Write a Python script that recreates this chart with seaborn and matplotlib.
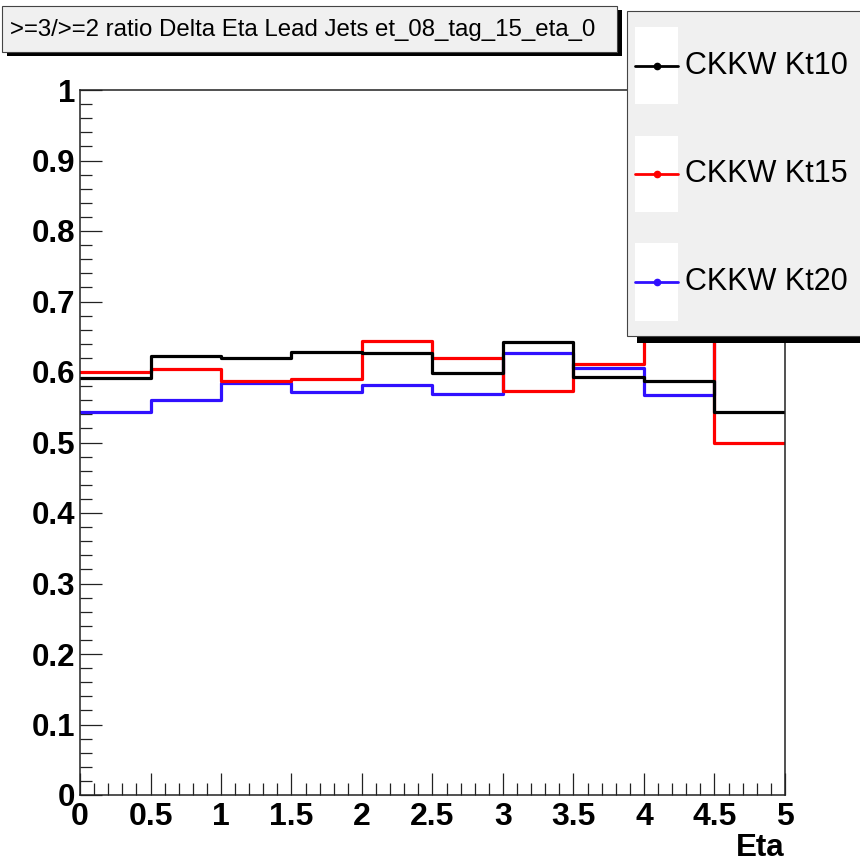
import numpy as np
import pandas as pd
import matplotlib
matplotlib.use("Agg")
import matplotlib.pyplot as plt
import seaborn as sns
from matplotlib.patches import Rectangle
from matplotlib.lines import Line2D
from matplotlib.ticker import MultipleLocator, FixedLocator, FuncFormatter

# ---- data -------------------------------------------------------------
bin_edges = [0.0, 0.5, 1.0, 1.5, 2.0, 2.5, 3.0, 3.5, 4.0, 4.5, 5.0]
kt10 = [0.592, 0.623, 0.620, 0.628, 0.627, 0.598, 0.643, 0.593, 0.587, 0.543]
kt15 = [0.600, 0.604, 0.587, 0.590, 0.644, 0.620, 0.573, 0.611, 0.690, 0.499]
kt20 = [0.543, 0.560, 0.584, 0.571, 0.582, 0.569, 0.627, 0.605, 0.567, 0.700]
series_labels = ["CKKW Kt10", "CKKW Kt15", "CKKW Kt20"]
series_colors = ["#000000", "#ff0000", "#3010ff"]
x_ticks = [0, 0.5, 1, 1.5, 2, 2.5, 3, 3.5, 4, 4.5, 5]
y_ticks = [0, 0.1, 0.2, 0.3, 0.4, 0.5, 0.6, 0.7, 0.8, 0.9, 1.0]
title_text = ">=3/>=2 ratio Delta Eta Lead Jets et_08_tag_15_eta_0"
x_label = "Eta"

centers = [(a + b) / 2 for a, b in zip(bin_edges[:-1], bin_edges[1:])]
df = pd.DataFrame({
    "eta": centers * 3,
    "ratio": kt10 + kt15 + kt20,
    "series": [s for s in series_labels for _ in centers],
})

# ---- style ------------------------------------------------------------
sns.set_style("white")
plt.rcParams["font.family"] = ["Liberation Sans", "DejaVu Sans"]
plt.rcParams["text.color"] = "black"
plt.rcParams["xtick.color"] = "black"
plt.rcParams["ytick.color"] = "black"
plt.rcParams["axes.labelcolor"] = "black"

W, H = 860, 864
fig = plt.figure(figsize=(W / 100, H / 100), dpi=100)
fig.patch.set_facecolor("white")


def fx(px):
    return px / W


def fy(py):
    return 1 - py / H


ax = fig.add_axes([fx(80), fy(795), fx(785) - fx(80), fy(90) - fy(795)])

sns.histplot(
    data=df, x="eta", weights="ratio", hue="series", hue_order=series_labels,
    bins=bin_edges, element="step", fill=False,
    palette=dict(zip(series_labels, series_colors)),
    linewidth=2.3, legend=False, ax=ax,
)

ax.set_xlim(bin_edges[0], bin_edges[-1])
ax.set_ylim(0, 1)
ax.set_ylabel("")
ax.set_xlabel(x_label, fontsize=22.5, fontweight="bold", loc="right")
ax.xaxis.set_label_coords(1.0, -0.054)

ax.xaxis.set_major_locator(FixedLocator(x_ticks))
ax.xaxis.set_minor_locator(MultipleLocator(0.1))
ax.yaxis.set_major_locator(FixedLocator(y_ticks))
ax.yaxis.set_minor_locator(MultipleLocator(0.02))
fmt = FuncFormatter(lambda v, p: f"{v:g}")
ax.xaxis.set_major_formatter(fmt)
ax.yaxis.set_major_formatter(fmt)

ax.tick_params(axis="both", which="both", direction="in", bottom=True, left=True,
               top=False, right=False, color="#222222", width=0.9,
               labelcolor="black")
ax.tick_params(axis="both", which="major", length=16)
ax.tick_params(axis="both", which="minor", length=8.5)
ax.tick_params(axis="x", which="major", pad=5, labelsize=23)
ax.tick_params(axis="y", which="major", pad=3.5, labelsize=22.5)
for lab in ax.get_xticklabels() + ax.get_yticklabels():
    lab.set_fontweight("bold")

for sp in ax.spines.values():
    sp.set_visible(True)
    sp.set_color("#222222")
    sp.set_linewidth(1.1)

# ---- title box --------------------------------------------------------
fig.add_artist(Rectangle((fx(7), fy(56)), fx(617) - fx(2), fy(6) - fy(52),
                         transform=fig.transFigure, facecolor="black",
                         edgecolor="none", zorder=10))
fig.add_artist(Rectangle((fx(2), fy(52)), fx(617) - fx(2), fy(6) - fy(52),
                         transform=fig.transFigure, facecolor="#f0f0f0",
                         edgecolor="#444444", linewidth=0.8, zorder=11))
t = fig.text(fx(10), fy(30), title_text, ha="left", va="center",
             fontsize=15, color="black", zorder=12)
renderer = fig.canvas.get_renderer()
w = t.get_window_extent(renderer).width
t.set_fontsize(15 * (597 - 10) / w)

# ---- legend box -------------------------------------------------------
fig.add_artist(Rectangle((fx(637), fy(343)), fx(880) - fx(637), fy(18) - fy(343),
                         transform=fig.transFigure, facecolor="black",
                         edgecolor="none", zorder=10))
fig.add_artist(Rectangle((fx(627), fy(336)), fx(870) - fx(627), fy(11) - fy(336),
                         transform=fig.transFigure, facecolor="#f0f0f0",
                         edgecolor="#444444", linewidth=0.8, zorder=11))
rows = [(27, 104), (136, 212), (243, 321)]
for (top, bot), lab, col in zip(rows, series_labels, series_colors):
    fig.add_artist(Rectangle((fx(635), fy(bot)), fx(678) - fx(635), fy(top) - fy(bot),
                             transform=fig.transFigure, facecolor="white",
                             edgecolor="none", zorder=12))
    ym = (top + bot) / 2
    fig.add_artist(Line2D([fx(635), fx(678)], [fy(ym), fy(ym)],
                          transform=fig.transFigure, color=col, linewidth=2.0,
                          zorder=13))
    fig.add_artist(Line2D([fx(657)], [fy(ym)], transform=fig.transFigure,
                          color=col, marker="o", markersize=4.5, zorder=14))
    fig.text(fx(685), fy(ym), lab, ha="left", va="center", fontsize=22,
             color="black", zorder=14)

fig.savefig("out.png", dpi=100, facecolor="white")
